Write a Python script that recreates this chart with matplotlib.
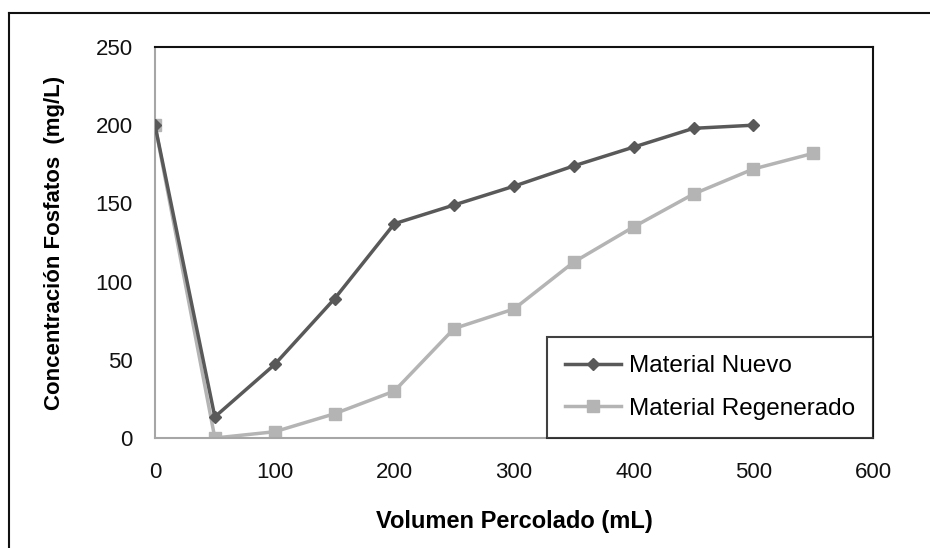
import matplotlib.pyplot as plt
from matplotlib.lines import Line2D

plt.rcParams['font.family'] = ['Liberation Sans', 'DejaVu Sans']

volumen = [0, 50, 100, 150, 200, 250, 300, 350, 400, 450, 500]
nuevo = [200, 13.5, 47, 89, 137, 149, 161, 174, 186, 198, 200]

volumen_reg = [0, 50, 100, 150, 200, 250, 300, 350, 400, 450, 500, 550]
regenerado = [200, 0, 4, 15.5, 30, 70, 82.5, 112.5, 135, 156, 172, 182]

x_ticks = [0, 100, 200, 300, 400, 500, 600]
y_ticks = [0, 50, 100, 150, 200, 250]

fig = plt.figure(figsize=(9.3, 5.48), dpi=100)
ax = fig.add_axes([155 / 930, 1 - 438 / 548, (873 - 155) / 930, (438 - 47) / 548])

ax.plot(volumen_reg, regenerado, color='#b4b4b4', linewidth=2.5,
        marker='s', markersize=9, label='Material Regenerado', zorder=2)
ax.plot(volumen, nuevo, color='#595959', linewidth=2.5,
        marker='D', markersize=6, label='Material Nuevo', zorder=3)

ax.set_xlim(0, 600)
ax.set_ylim(0, 250)
ax.set_xticks(x_ticks)
ax.set_yticks(y_ticks)
ax.tick_params(axis='both', length=0, labelsize=16, colors='#111111')
ax.tick_params(axis='x', pad=17)
ax.tick_params(axis='y', pad=16)

for side in ['left', 'bottom']:
    ax.spines[side].set_color('#a6a6a6')
    ax.spines[side].set_linewidth(1.5)
for side in ['top', 'right']:
    ax.spines[side].set_color('#111111')
    ax.spines[side].set_linewidth(1.5)

ax.set_xlabel('Volumen Percolado (mL)', fontsize=17, fontweight='bold', labelpad=20)
ax.set_ylabel('Concentración Fosfatos  (mg/L)', fontsize=16, fontweight='bold', labelpad=22)

handles, labels = ax.get_legend_handles_labels()
leg = ax.legend(handles[::-1], labels[::-1], loc='lower right', fontsize=17.5,
                frameon=True, fancybox=False, borderaxespad=0, handlelength=2.3,
                borderpad=0.75, labelspacing=0.85, handletextpad=0.3)
leg.get_frame().set_edgecolor('#111111')
leg.get_frame().set_linewidth(1.5)

# outer chart border (only top and left visible)
fig.add_artist(Line2D([9 / 930, 9 / 930], [0, 1 - 13 / 548], color='#111111', linewidth=1.5))
fig.add_artist(Line2D([9 / 930, 1], [1 - 13 / 548, 1 - 13 / 548], color='#111111', linewidth=1.5))

plt.savefig('out.png', dpi=100)
